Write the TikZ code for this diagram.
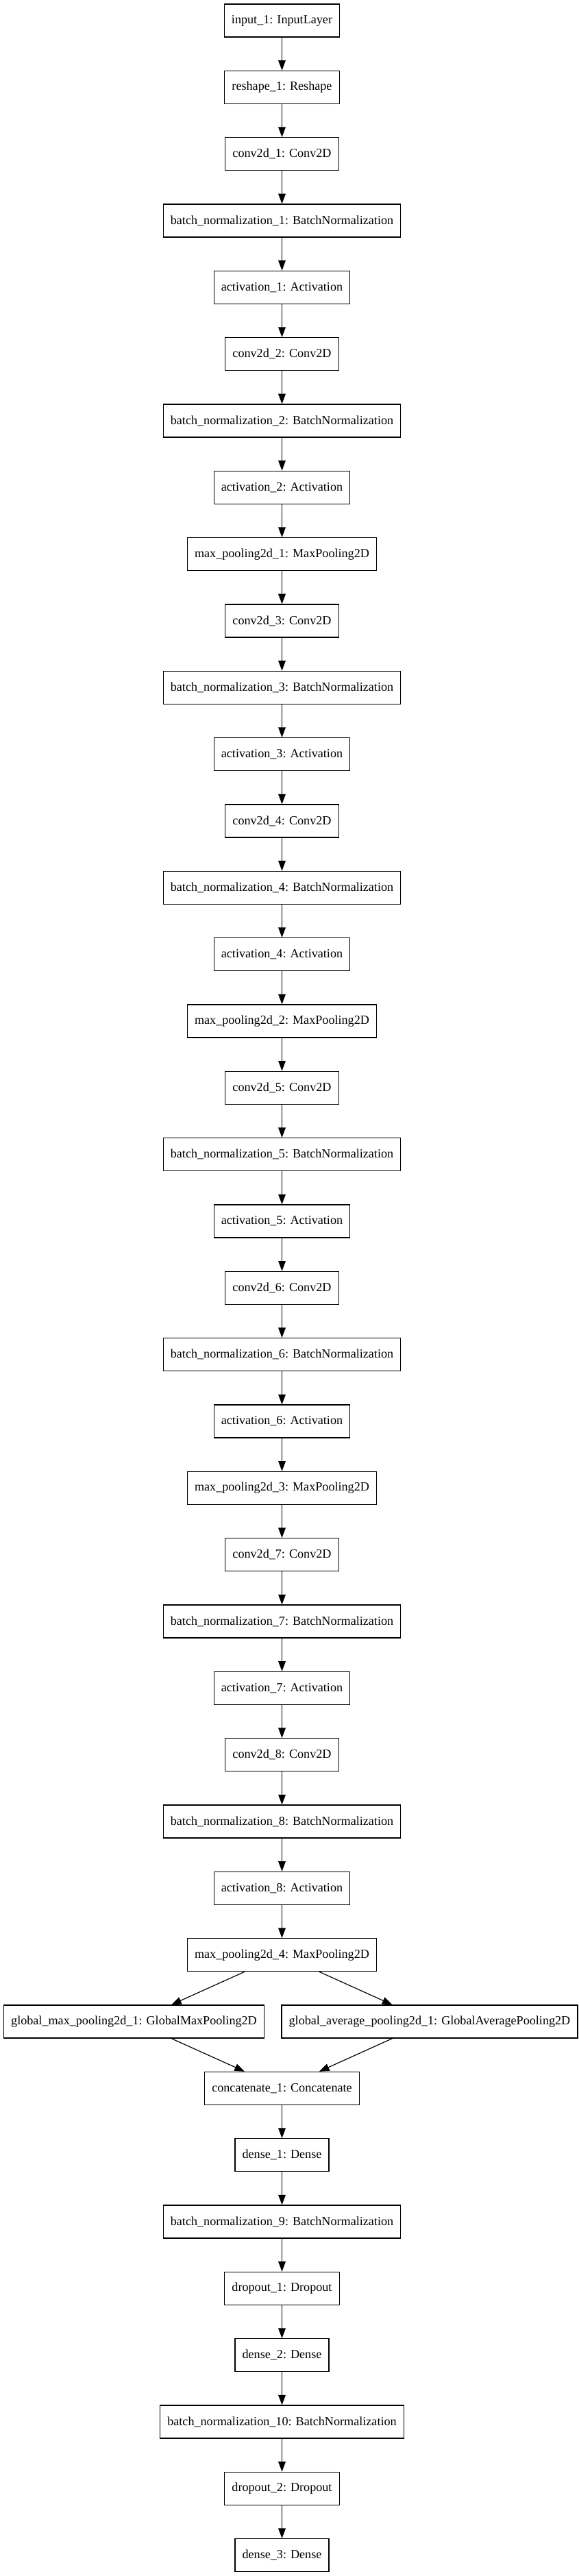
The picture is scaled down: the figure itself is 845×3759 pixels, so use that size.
\documentclass[tikz,border=0pt]{standalone}
\usepackage{fontspec}
\setmainfont{Liberation Serif}
\usetikzlibrary{arrows.meta}

\begin{document}
\begin{tikzpicture}[x=0.75pt,y=-0.75pt,->,>={Triangle[length=11pt,width=8pt]},node distance=73pt,line width=0.9pt]
                  \tikzstyle{layer}=[draw,rectangle,minimum height=36pt,inner xsep=8pt,font=\fontsize{13.6}{16}\selectfont]

                  \useasboundingbox (0,0) rectangle (845,3759);

                  \node[layer]         (in)  at (411.5,30)    {input\_1: InputLayer};
                  \node[layer]         (rs)  [below of=in]   {reshape\_1: Reshape};
                  \node[layer]         (c1)  [below of=rs]   {conv2d\_1: Conv2D};
                  \node[layer]         (bn1) [below of=c1]   {batch\_normalization\_1: BatchNormalization};
                  \node[layer]         (a1)  [below of=bn1]  {activation\_1: Activation};
                  \node[layer]         (c2)  [below of=a1]   {conv2d\_2: Conv2D};
                  \node[layer]         (bn2) [below of=c2]   {batch\_normalization\_2: BatchNormalization};
                  \node[layer]         (a2)  [below of=bn2]  {activation\_2: Activation};
                  \node[layer]         (mp1) [below of=a2]   {max\_pooling2d\_1: MaxPooling2D};
                  \node[layer]         (c3)  [below of=mp1]  {conv2d\_3: Conv2D};
                  \node[layer]         (bn3) [below of=c3]   {batch\_normalization\_3: BatchNormalization};
                  \node[layer]         (a3)  [below of=bn3]  {activation\_3: Activation};
                  \node[layer]         (c4)  [below of=a3]   {conv2d\_4: Conv2D};
                  \node[layer]         (bn4) [below of=c4]   {batch\_normalization\_4: BatchNormalization};
                  \node[layer]         (a4)  [below of=bn4]  {activation\_4: Activation};
                  \node[layer]         (mp2) [below of=a4]   {max\_pooling2d\_2: MaxPooling2D};
                  \node[layer]         (c5)  [below of=mp2]  {conv2d\_5: Conv2D};
                  \node[layer]         (bn5) [below of=c5]   {batch\_normalization\_5: BatchNormalization};
                  \node[layer]         (a5)  [below of=bn5]  {activation\_5: Activation};
                  \node[layer]         (c6)  [below of=a5]   {conv2d\_6: Conv2D};
                  \node[layer]         (bn6) [below of=c6]   {batch\_normalization\_6: BatchNormalization};
                  \node[layer]         (a6)  [below of=bn6]  {activation\_6: Activation};
                  \node[layer]         (mp3) [below of=a6]   {max\_pooling2d\_3: MaxPooling2D};
                  \node[layer]         (c7)  [below of=mp3]  {conv2d\_7: Conv2D};
                  \node[layer]         (bn7) [below of=c7]   {batch\_normalization\_7: BatchNormalization};
                  \node[layer]         (a7)  [below of=bn7]  {activation\_7: Activation};
                  \node[layer]         (c8)  [below of=a7]   {conv2d\_8: Conv2D};
                  \node[layer]         (bn8) [below of=c8]   {batch\_normalization\_8: BatchNormalization};
                  \node[layer]         (a8)  [below of=bn8]  {activation\_8: Activation};
                  \node[layer]         (mp4) [below of=a8]   {max\_pooling2d\_4: MaxPooling2D};
                  \node[layer]         (gmp) [below of=mp4,xshift=-162pt] {global\_max\_pooling2d\_1: GlobalMaxPooling2D};
                  \node[layer]         (gap) [below of=mp4,xshift=161.6pt] {global\_average\_pooling2d\_1: GlobalAveragePooling2D};
                  \node[layer]         (cat) [below of=mp4,yshift=-73pt] {concatenate\_1: Concatenate};
                  \node[layer]         (d1)  [below of=cat]  {dense\_1: Dense};
                  \node[layer]         (bn9) [below of=d1]   {batch\_normalization\_9: BatchNormalization};
                  \node[layer]         (do1) [below of=bn9]  {dropout\_1: Dropout};
                  \node[layer]         (d2)  [below of=do1]  {dense\_2: Dense};
                  \node[layer]         (bn10) [below of=d2]  {batch\_normalization\_10: BatchNormalization};
                  \node[layer]         (do2) [below of=bn10] {dropout\_2: Dropout};
                  \node[layer]         (d3)  [below of=do2]  {dense\_3: Dense};

                  \path (in) edge (rs)   (rs) edge (c1)   (c1) edge (bn1)  (bn1) edge (a1)
                        (a1) edge (c2)   (c2) edge (bn2)  (bn2) edge (a2)  (a2) edge (mp1)
                        (mp1) edge (c3)  (c3) edge (bn3)  (bn3) edge (a3)  (a3) edge (c4)
                        (c4) edge (bn4)  (bn4) edge (a4)  (a4) edge (mp2)  (mp2) edge (c5)
                        (c5) edge (bn5)  (bn5) edge (a5)  (a5) edge (c6)   (c6) edge (bn6)
                        (bn6) edge (a6)  (a6) edge (mp3)  (mp3) edge (c7)  (c7) edge (bn7)
                        (bn7) edge (a7)  (a7) edge (c8)   (c8) edge (bn8)  (bn8) edge (a8)
                        (a8) edge (mp4)  (mp4) edge (gmp) (mp4) edge (gap)
                        (gmp) edge (cat) (gap) edge (cat) (cat) edge (d1)  (d1) edge (bn9)
                        (bn9) edge (do1) (do1) edge (d2)  (d2) edge (bn10) (bn10) edge (do2)
                        (do2) edge (d3);
                \end{tikzpicture}
\end{document}
